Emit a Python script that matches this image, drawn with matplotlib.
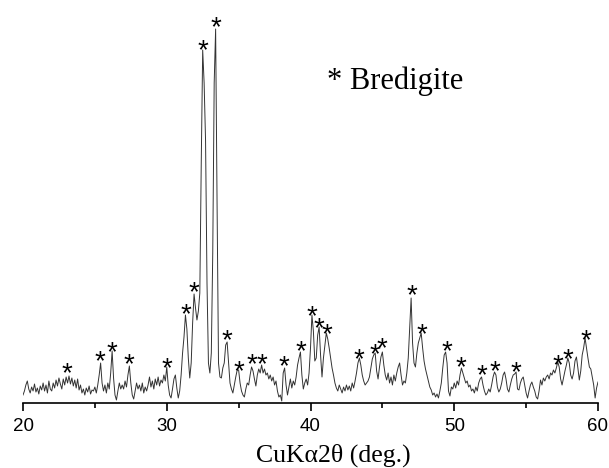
import numpy as np
import matplotlib.pyplot as plt

# --- data (intensity in arbitrary units, 0.1 deg steps) ---
two_theta = np.round(np.arange(20.0, 60.05, 0.1), 1)

intensity = [
    8, 12, 18, 22, 14, 10, 16, 12, 19, 11,          # 20
    15, 9, 17, 13, 20, 12, 18, 10, 22, 14,          # 21
    12, 20, 15, 23, 17, 25, 19, 14, 24, 18,         # 22
    26, 20, 27, 19, 25, 17, 23, 15, 24, 13,         # 23
    18, 10, 14, 8, 15, 11, 17, 9, 13, 12,           # 24
    16, 10, 18, 28, 40, 20, 12, 18, 10, 20,         # 25
    14, 30, 52, 25, 8, 3, 12, 20, 14, 18,           # 26
    14, 22, 16, 28, 37, 20, 8, 4, 12, 20,           # 27
    14, 18, 12, 20, 10, 16, 12, 18, 26, 16,         # 28
    22, 14, 24, 18, 26, 17, 23, 20, 28, 22,         # 29
    36, 18, 8, 5, 14, 24, 28, 15, 5, 12,            # 30
    28, 50, 66, 88, 74, 45, 25, 40, 80, 109,        # 31
    95, 83, 92, 110, 240, 353, 320, 262, 120, 40,   # 32
    30, 50, 150, 320, 374, 200, 40, 26, 25, 35,     # 33
    40, 58, 61, 40, 20, 14, 10, 18, 26, 33,         # 34
    33, 20, 12, 8, 6, 14, 20, 18, 28, 36,           # 35
    32, 24, 17, 28, 34, 30, 38, 30, 34, 28,         # 36
    30, 24, 28, 22, 26, 18, 22, 12, 6, 8,           # 37
    2, 30, 35, 18, 8, 16, 24, 15, 22, 18,           # 38
    26, 38, 45, 51, 28, 14, 20, 24, 18, 30,         # 39
    55, 88, 72, 42, 45, 68, 76, 48, 26, 45,         # 40
    58, 70, 64, 55, 45, 35, 28, 20, 15, 12,         # 41
    18, 14, 10, 16, 12, 18, 13, 17, 12, 20,         # 42
    15, 22, 30, 40, 45, 38, 28, 22, 18, 20,         # 43
    22, 26, 35, 44, 48, 50, 32, 24, 36, 46,         # 44
    51, 38, 28, 23, 30, 20, 26, 18, 28, 22,         # 45
    30, 36, 40, 28, 18, 22, 20, 30, 45, 75,         # 46
    105, 60, 40, 36, 50, 60, 65, 70, 55, 42,        # 47
    34, 28, 22, 16, 13, 8, 10, 6, 9, 5,             # 48
    12, 20, 35, 48, 51, 40, 12, 7, 16, 14,          # 49
    20, 15, 22, 18, 28, 35, 30, 25, 20, 22,         # 50
    16, 18, 12, 14, 10, 16, 12, 20, 24, 26,         # 51
    18, 12, 8, 10, 14, 11, 18, 26, 31, 28,          # 52
    16, 11, 14, 20, 28, 31, 24, 14, 11, 18,         # 53
    24, 28, 29, 31, 14, 13, 20, 24, 26, 18,         # 54
    10, 5, 12, 18, 21, 16, 12, 6, 4, 12,            # 55
    23, 18, 25, 22, 26, 28, 24, 30, 28, 33,         # 56
    30, 35, 41, 36, 24, 18, 25, 32, 38, 45,         # 57
    40, 28, 24, 30, 42, 46, 35, 23, 32, 48,         # 58
    55, 65, 55, 45, 36, 34, 26, 18, 5, 15,          # 59
    21,                                             # 60
]

# bredigite peak markers (position in deg, height of the asterisk centre)
star_pos = [23.04, 25.36, 26.21, 27.37, 30.04, 31.32, 31.9, 32.5, 33.43,
            34.17, 35.03, 35.95, 36.6, 38.16, 39.32, 40.13, 40.61, 41.17,
            43.4, 44.49, 45.0, 47.04, 47.78, 49.48, 50.49, 51.95, 52.86,
            54.3, 57.24, 57.93, 59.14]
star_h = [38, 50, 59, 47, 43, 97, 119, 361, 384,
          71, 40, 47, 47, 45, 60, 95, 83, 77,
          52, 57, 63, 116, 77, 60, 44, 36, 40,
          39, 46, 52, 71]

xticks = [20, 30, 40, 50, 60]

# --- plot ---
fig = plt.figure(figsize=(6.09, 4.68), dpi=100)
ax = fig.add_axes([23 / 609, 65 / 468, 575 / 609, 403 / 468])

ax.plot(two_theta, intensity, color='#333333', lw=0.7)

for p, h in zip(star_pos, star_h):
    ax.text(p, h - 16, '*', fontsize=20, family='Liberation Sans',
            ha='center', va='baseline')

fig.text(327 / 609, (468 - 89) / 468, '* Bredigite', fontsize=22,
         family='Liberation Serif', va='baseline')

ax.set_xlim(20, 60)
ax.set_ylim(0, 403)
ax.set_xticks(xticks)
ax.set_xticks([25, 35, 45, 55], minor=True)
ax.set_yticks([])
for s in ['left', 'right', 'top']:
    ax.spines[s].set_visible(False)
ax.spines['bottom'].set_linewidth(1.2)
ax.tick_params(axis='x', which='major', length=6, width=1.2, labelsize=13.5,
               pad=5)
ax.tick_params(axis='x', which='minor', length=3.5, width=1.2)
for lab in ax.get_xticklabels():
    lab.set_family('Liberation Sans')

fig.text(333 / 609, 6 / 468, 'CuKα2θ (deg.)', fontsize=18.5,
         family='Liberation Serif', ha='center', va='baseline')

fig.savefig('out.png', dpi=100)
